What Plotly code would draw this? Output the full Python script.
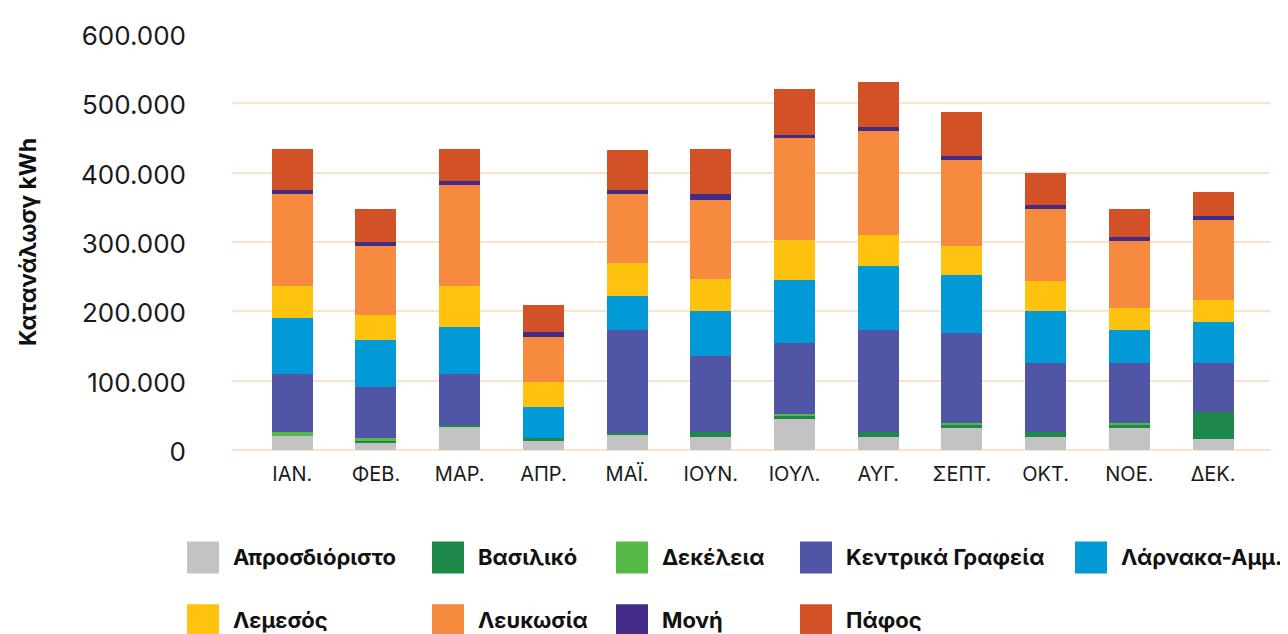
import plotly.graph_objects as go

months = ["ΙΑΝ.", "ΦΕΒ.", "ΜΑΡ.", "ΑΠΡ.", "ΜΑΪ.", "ΙΟΥΝ.",
          "ΙΟΥΛ.", "ΑΥΓ.", "ΣΕΠΤ.", "ΟΚΤ.", "ΝΟΕ.", "ΔΕΚ."]

# consumption in thousands of kWh
aprosdioristo = [20.0, 10.0, 33.0, 13.0, 21.5, 18.7, 44.5, 18.7, 31.6, 18.7, 31.6, 15.8]
vasiliko = [0.0, 4.4, 3.0, 4.3, 3.0, 7.1, 4.3, 7.1, 4.3, 7.1, 4.3, 38.7]
dekeleia = [5.8, 2.8, 0.0, 0.0, 0.0, 0.0, 3.3, 0.0, 2.9, 0.0, 2.9, 0.0]
kentrika = [83.3, 73.2, 73.2, 0.0, 149.3, 109.1, 102.9, 147.9, 130.6, 99.1, 86.1, 70.4]
larnaka = [81.8, 68.9, 67.5, 44.5, 49.0, 66.1, 89.5, 91.8, 83.2, 76.1, 48.8, 60.3]
lemesos = [45.9, 35.9, 60.2, 36.3, 47.0, 45.9, 58.4, 44.5, 41.7, 43.0, 31.6, 31.5]
lefkosia = [132.1, 99.1, 145.0, 65.6, 99.0, 113.4, 146.4, 150.8, 123.4, 103.4, 96.1, 114.9]
moni = [5.7, 5.7, 5.8, 5.8, 5.7, 8.6, 5.7, 5.7, 5.7, 5.6, 5.8, 5.7]
pafos = [58.9, 47.4, 45.9, 40.2, 58.9, 64.6, 66.0, 64.5, 64.6, 46.0, 40.2, 34.5]

names = ["Απροσδιόριστο", "Βασιλικό", "Δεκέλεια", "Κεντρικά Γραφεία", "Λάρνακα-Αμμ.",
         "Λεμεσός", "Λευκωσία", "Μονή", "Πάφος"]
series = [aprosdioristo, vasiliko, dekeleia, kentrika, larnaka,
          lemesos, lefkosia, moni, pafos]
colors = ["#C3C3C3", "#1E884A", "#56B947", "#5055A5", "#019AD6",
          "#FFC20F", "#F68B3F", "#432B88", "#D35126"]

FONT = "Inter"
PAGE = 8  # default body margin of the html page
W, H = 1280, 626
L, R, T, B = 224, 18, 24, 184
PW, PH = W - L - R, H - T - B


# page pixel -> paper coords
def px_x(px):
    return (px - PAGE - L) / PW


def px_y(py):
    return (H - B - (py - PAGE)) / PH


fig = go.Figure()
for name, vals, col in zip(names, series, colors):
    fig.add_trace(go.Bar(
        x=months,
        y=[v * 1000 for v in vals],
        name=name,
        marker=dict(color=col, line=dict(width=0)),
        width=0.49,
        showlegend=False,
    ))

# legend drawn by hand: big square swatches in a 5-column grid
col_left = [187, 432, 616, 800, 1075]
row_mid = [558, 621]
shapes, annos = [], []
for i, (name, col) in enumerate(zip(names, colors)):
    r, c = (0, i) if i < 5 else (1, i - 5)
    x0 = col_left[c]
    ym = row_mid[r]
    shapes.append(dict(type="rect", xref="paper", yref="paper",
                       x0=px_x(x0), x1=px_x(x0 + 32),
                       y0=px_y(ym + 16), y1=px_y(ym - 16),
                       fillcolor=col, line=dict(width=0)))
    annos.append(dict(xref="paper", yref="paper", x=px_x(x0 + 44), y=px_y(ym),
                      xanchor="left", yanchor="middle", showarrow=False,
                      text="<b>" + name + "</b>",
                      font=dict(family=FONT, size=22, color="#111111")))

fig.update_layout(
    barmode="stack",
    width=W, height=H,
    margin=dict(l=L, r=R, t=T, b=B),
    plot_bgcolor="white",
    paper_bgcolor="white",
    separators=",.",
    font=dict(family=FONT, color="#1a1a1a"),
    shapes=shapes,
    annotations=annos,
)
fig.update_xaxes(
    range=[-0.72, 11.68],
    showgrid=False, showline=False, zeroline=False,
    ticks="", ticklabelstandoff=10,
    tickfont=dict(family=FONT, size=20, color="#1a1a1a"),
)
fig.update_yaxes(
    range=[0, 600000],
    tickvals=[0, 100000, 200000, 300000, 400000, 500000, 600000],
    tickformat=",d",
    showgrid=True, gridcolor="#FDE2CB", gridwidth=2,
    zeroline=True, zerolinecolor="#FDE2CB", zerolinewidth=2,
    showline=False, ticks="", ticklabelstandoff=45, ticklabelshift=2,
    tickfont=dict(family=FONT, size=26, color="#1a1a1a"),
    title=dict(text="<b>Κατανάλωσγ kWh</b>", standoff=37,
               font=dict(family=FONT, size=23, color="#111111")),
)

fig.write_html("out.html")
